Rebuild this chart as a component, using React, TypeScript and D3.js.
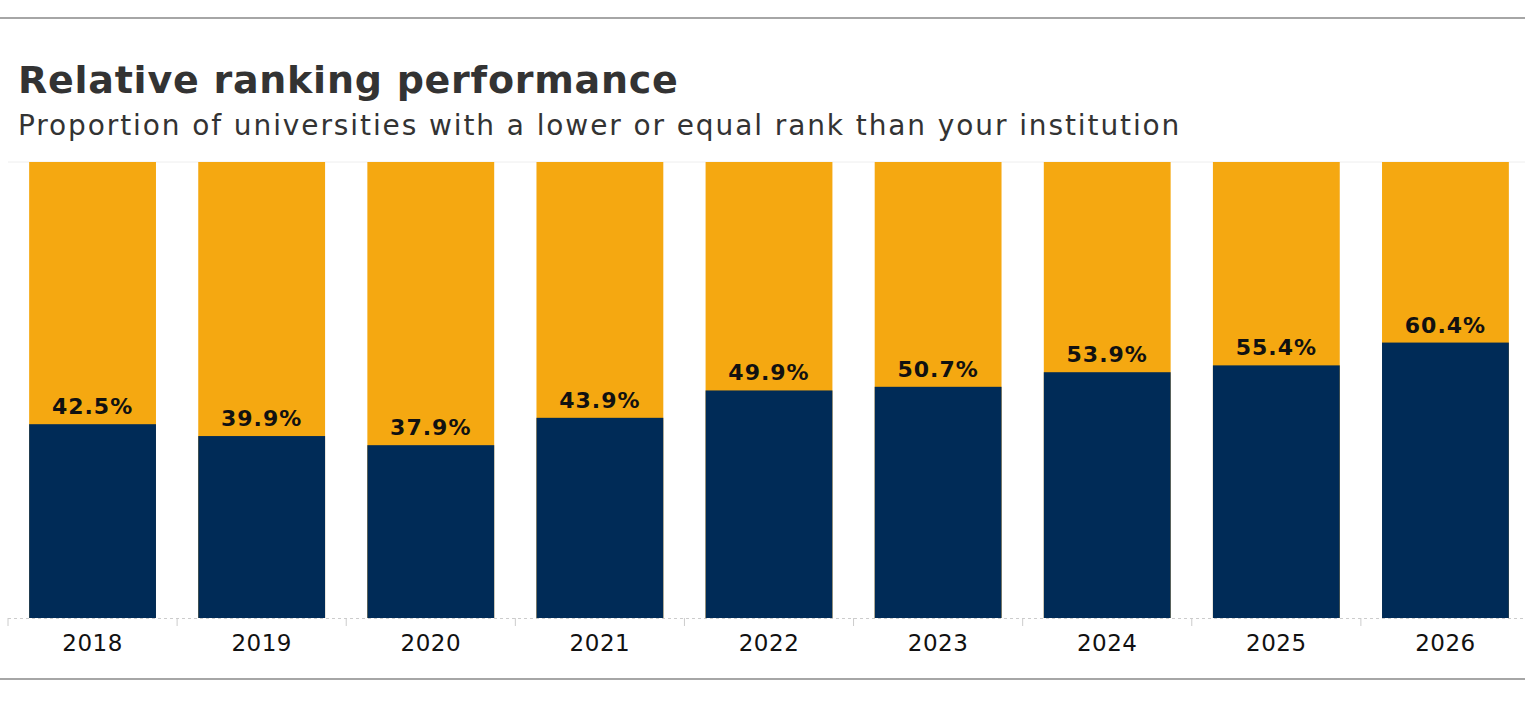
import React, { useEffect, useRef } from 'react';
import * as d3 from 'd3';

const years = ['2018', '2019', '2020', '2021', '2022', '2023', '2024', '2025', '2026'];
const shares = [42.5, 39.9, 37.9, 43.9, 49.9, 50.7, 53.9, 55.4, 60.4];

const W = 1525;
const H = 706;

const App: React.FC = () => {
  const svgRef = useRef<SVGSVGElement>(null);

  useEffect(() => {
    if (!svgRef.current) return;
    const svg = d3.select(svgRef.current);
    svg.selectAll('*').remove();

    const font = "'DejaVu Sans', Verdana, sans-serif";
    const top = 162;
    const bottom = 618;

    const x = d3.scaleBand<string>()
      .domain(years)
      .range([8, 1530])
      .paddingInner(0.25)
      .paddingOuter(0.125);
    const y = d3.scaleLinear().domain([0, 100]).range([bottom, top]);

    // frame lines
    svg.append('line')
      .attr('x1', 0).attr('x2', W).attr('y1', 18).attr('y2', 18)
      .attr('stroke', '#a6a6a6').attr('stroke-width', 2);
    svg.append('line')
      .attr('x1', 0).attr('x2', W).attr('y1', 679).attr('y2', 679)
      .attr('stroke', '#a6a6a6').attr('stroke-width', 2);

    // title
    svg.append('text')
      .attr('x', 18).attr('y', 93)
      .attr('font-family', font).attr('font-weight', 'bold')
      .attr('font-size', 38).attr('fill', '#333')
      .attr('letter-spacing', 0.75)
      .text('Relative ranking performance');
    svg.append('text')
      .attr('x', 18).attr('y', 135)
      .attr('font-family', font)
      .attr('font-size', 28).attr('fill', '#333')
      .attr('letter-spacing', 1.9)
      .text('Proportion of universities with a lower or equal rank than your institution');

    // faint top gridline
    svg.append('line')
      .attr('x1', 8).attr('x2', W).attr('y1', top).attr('y2', top)
      .attr('stroke', '#eeeeee').attr('stroke-width', 1);

    const g = svg.append('g');
    // background (remaining) bars
    g.selectAll('rect.rest')
      .data(years)
      .join('rect')
      .attr('class', 'rest')
      .attr('x', d => x(d)!)
      .attr('width', x.bandwidth())
      .attr('y', y(100))
      .attr('height', y(0) - y(100))
      .attr('fill', '#f5a811');

    g.selectAll('rect.share')
      .data(shares)
      .join('rect')
      .attr('class', 'share')
      .attr('x', (_, i) => x(years[i])!)
      .attr('width', x.bandwidth())
      .attr('y', d => y(d))
      .attr('height', d => y(0) - y(d))
      .attr('fill', '#002b57');

    g.selectAll('text.val')
      .data(shares)
      .join('text')
      .attr('class', 'val')
      .attr('x', (_, i) => x(years[i])! + x.bandwidth() / 2)
      .attr('y', d => y(d) - 10)
      .attr('text-anchor', 'middle')
      .attr('font-family', font).attr('font-weight', 'bold')
      .attr('font-size', 22).attr('fill', '#111')
      .attr('letter-spacing', 1)
      .text(d => `${d.toFixed(1)}%`);

    // x axis
    const axis = svg.append('g')
      .attr('transform', `translate(0,${bottom})`)
      .call(d3.axisBottom(x).tickSize(0).tickPadding(17));
    axis.select('.domain').remove();
    axis.selectAll('text')
      .attr('font-family', font).attr('font-size', 23).attr('fill', '#111')
      .attr('letter-spacing', 0.5);

    axis.append('line')
      .attr('x1', 8).attr('x2', W).attr('y1', 0.5).attr('y2', 0.5)
      .attr('stroke', '#cccccc').attr('stroke-dasharray', '3,3');
    const step = x.step();
    axis.selectAll('line.tk')
      .data(d3.range(years.length + 1))
      .join('line')
      .attr('class', 'tk')
      .attr('x1', i => 8 + i * step).attr('x2', i => 8 + i * step)
      .attr('y1', 0).attr('y2', 8)
      .attr('stroke', '#cccccc');
  }, []);

  return (
    <svg
      ref={svgRef}
      width={W}
      height={H}
      style={{ position: 'absolute', left: 0, top: 0, background: '#fff', display: 'block' }}
    />
  );
};

export default App;
